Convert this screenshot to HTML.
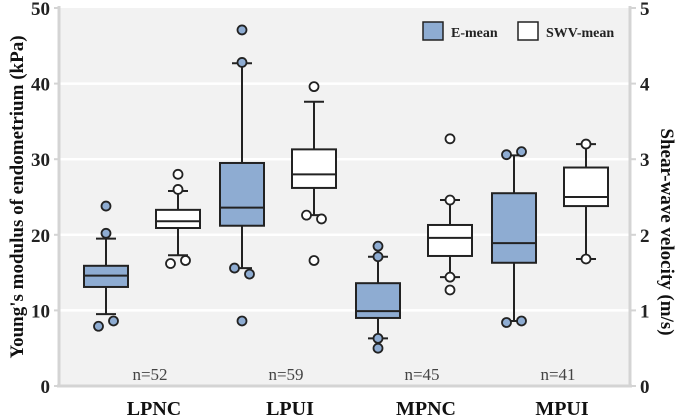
<!DOCTYPE html>
<html><head><meta charset="utf-8"><style>
body{margin:0;background:#fff}
svg{display:block;font-family:"Liberation Serif",serif}
</style></head><body>
<svg id="chart" width="685" height="418" viewBox="0 0 685 418">
<rect x="59" y="8" width="571" height="378" fill="#f2f2f2"/>
<g id="grid"></g>
<line x1="59" y1="6" x2="59" y2="387" stroke="#d4d4d4" stroke-width="3"/>
<line x1="630" y1="6" x2="630" y2="387" stroke="#d4d4d4" stroke-width="3"/>
<line x1="57" y1="386" x2="632" y2="386" stroke="#d4d4d4" stroke-width="3"/>
<g id="ticks"></g>
<g id="boxes"></g>
<text transform="translate(23,197) rotate(-90)" text-anchor="middle" font-weight="bold" font-size="19" fill="#111">Young's modulus of endometrium (kPa)</text>
<text transform="translate(661,232) rotate(90)" text-anchor="middle" font-weight="bold" font-size="19" fill="#111">Shear-wave velocity (m/s)</text>
<g>
<rect x="423" y="22" width="20" height="18" fill="#8eacd2" stroke="#222" stroke-width="1.5"/>
<text x="451" y="37" font-weight="bold" font-size="14" fill="#222">E-mean</text>
<rect x="518" y="22" width="20" height="18" fill="#fff" stroke="#222" stroke-width="1.5"/>
<text x="546" y="37" font-weight="bold" font-size="14" fill="#222">SWV-mean</text>
</g>
</svg>
<script>
const categories=["LPNC","LPUI","MPNC","MPUI"];
const nLabels=["n=52","n=59","n=45","n=41"];
// E-mean (kPa): [whiskerLow, q1, median, q3, whiskerHigh]
const eStats=[[9.5,13.1,14.6,15.9,19.5],[15.6,21.2,23.6,29.5,42.7],[6.3,9.0,9.9,13.6,17.1],[8.6,16.3,18.9,25.5,30.5]];
// outliers as [value, jitter]
const eOutliers=[[[23.8,0],[20.2,0],[7.9,-1],[8.6,1]],[[47.1,0],[42.8,0],[15.6,-1],[14.8,1],[8.6,0]],[[18.5,0],[17.1,0],[6.3,0],[5.0,0]],[[30.6,-1],[31.0,1],[8.4,-1],[8.6,1]]];
// SWV-mean (m/s)
const sStats=[[1.73,2.09,2.18,2.33,2.58],[2.26,2.62,2.80,3.13,3.76],[1.44,1.72,1.96,2.13,2.46],[1.68,2.38,2.50,2.89,3.20]];
const sOutliers=[[[2.80,0],[2.60,0],[1.62,-1],[1.66,1]],[[3.96,0],[2.26,-1],[2.21,1],[1.66,0]],[[3.27,0],[2.46,0],[1.44,0],[1.27,0]],[[3.20,0],[1.68,0]]];
const leftTicks=[0,10,20,30,40,50];
const rightTicks=[0,1,2,3,4,5];

const NS="http://www.w3.org/2000/svg";
const y0=386,y1=8;
const yL=v=>y0-(v/50)*(y0-y1);
const yR=v=>y0-(v/5)*(y0-y1);
const groupX=i=>142+i*136;
const eX=i=>groupX(i)-36;
const sX=i=>groupX(i)+36;
function mk(tag,attrs,parent){const e=document.createElementNS(NS,tag);for(const k in attrs)e.setAttribute(k,attrs[k]);parent.appendChild(e);return e;}
const grid=document.getElementById('grid'),ticks=document.getElementById('ticks'),boxes=document.getElementById('boxes');
leftTicks.forEach(t=>{
 if(t>0&&t<50){const g=mk('line',{x1:60,x2:629,y1:yL(t),y2:yL(t),stroke:'#fff','stroke-width':2.5},grid);
 
 }
 const tx=mk('text',{x:50,y:yL(t)+7,'text-anchor':'end','font-size':19,'font-weight':'bold',fill:'#222'},ticks);tx.textContent=t;
 
 
 const tk=mk('line',{x1:54,x2:59,y1:yL(t),y2:yL(t),stroke:'#d4d4d4','stroke-width':2},ticks);
 
 
});
rightTicks.forEach(t=>{
 const tx=mk('text',{x:640,y:yR(t)+7,'font-size':19,'font-weight':'bold',fill:'#222'},ticks);tx.textContent=t;
 
 
 const tk=mk('line',{x1:630,x2:636,y1:yR(t),y2:yR(t),stroke:'#d4d4d4','stroke-width':2},ticks);
 
 
});
function drawBox(cx,st,outs,ys,fill,name){
 const g=mk('g',{},boxes);
 
 
 const w=44,cw=10;
 mk('line',{x1:cx,x2:cx,y1:ys(st[0]),y2:ys(st[4]),stroke:'#222','stroke-width':2},g);
 mk('line',{x1:cx-cw,x2:cx+cw,y1:ys(st[0]),y2:ys(st[0]),stroke:'#222','stroke-width':2},g);
 mk('line',{x1:cx-cw,x2:cx+cw,y1:ys(st[4]),y2:ys(st[4]),stroke:'#222','stroke-width':2},g);
 mk('rect',{x:cx-w/2,y:ys(st[3]),width:w,height:ys(st[1])-ys(st[3]),fill:fill,stroke:'#222','stroke-width':2},g);
 mk('line',{x1:cx-w/2,x2:cx+w/2,y1:ys(st[2]),y2:ys(st[2]),stroke:'#222','stroke-width':2},g);
 outs.forEach(o=>{const c=mk('circle',{cx:cx+o[1]*7.5,cy:ys(o[0]),r:4.5,fill:fill,stroke:'#222','stroke-width':1.8},g);
  
  });
}
categories.forEach((c,i)=>{
 drawBox(eX(i),eStats[i],eOutliers[i],yL,'#8eacd2','e-mean-box-'+c.toLowerCase());
 drawBox(sX(i),sStats[i],sOutliers[i],yR,'#ffffff','swv-mean-box-'+c.toLowerCase());
 const n=mk('text',{x:groupX(i)+8,y:380,'text-anchor':'middle','font-size':17,fill:'#444'},boxes);n.textContent=nLabels[i];
 
 
 const l=mk('text',{x:groupX(i)+12,y:415,'text-anchor':'middle','font-size':20,'font-weight':'bold',fill:'#111'},boxes);l.textContent=c;
 
 
});
</script>
</body></html>
